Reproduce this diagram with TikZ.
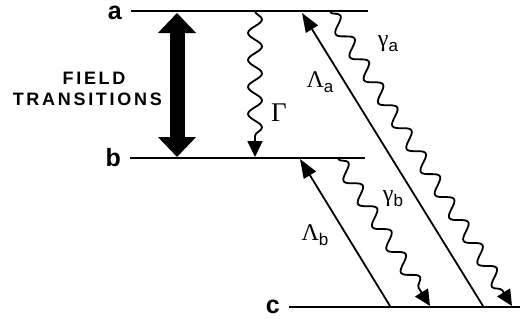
\documentclass[tikz,border=0pt]{standalone}
\usepackage{fontspec}
\setsansfont{Liberation Sans}
\newfontfamily\greekfont{Liberation Serif}
\newfontfamily\fieldfont[LetterSpace=15]{Liberation Sans}
\usetikzlibrary{arrows.meta, positioning, decorations.pathmorphing}
\tikzset{
  node distance=6pt,
  lvlline/.style={line width=2.6pt},
  lvllbl/.style={font=\fontsize{25}{25}\selectfont\sffamily\bfseries, inner sep=0pt},
  fieldlbl/.style={font=\fontsize{18}{18}\selectfont\fieldfont\bfseries, inner sep=0pt},
  pump/.style={-{Triangle[length=19pt, width=14pt]}, line width=1.8pt},
  wave/.style={-{Triangle[length=16pt, width=15pt]}, line width=1.8pt, decorate,
               decoration={snake, amplitude=7pt, segment length=27pt, post length=18pt}},
  field/.style={{Triangle[length=20pt, width=37pt]}-{Triangle[length=20pt, width=37pt]},
                line width=15pt},
  rate/.style={font=\fontsize{24}{24}\selectfont\greekfont, inner sep=0pt},
}
\newcommand{\ratesub}[2]{#1\raisebox{-5pt}{\fontsize{17}{17}\selectfont\sffamily #2}}

\begin{document}
\begin{tikzpicture}[x=1pt, y=-1pt]
  \useasboundingbox (0,0) rectangle (522,324);
  % levels
  \coordinate (a1) at (131,11);  \coordinate (a2) at (368,11);
  \coordinate (b1) at (130,158); \coordinate (b2) at (365,158);
  \coordinate (c1) at (289,307); \coordinate (c2) at (520,307);
  \draw[lvlline] (a1) -- (a2);
  \draw[lvlline] (b1) -- (b2);
  \draw[lvlline] (c1) -- (c2);
  \node[lvllbl, left=9pt of a1, yshift=-2pt] (la) {a};
  \node[lvllbl, left=9pt of b1] (lb) {b};
  \node[lvllbl, left=9pt of c1] (lc) {c};
  % field transitions
  \coordinate (fa) at (177,13); \coordinate (fb) at (177,157);
  \draw[field] (fa) -- (fb);
  \node[fieldlbl, anchor=east] (trans) at (162,99) {TRANSITIONS};
  \node[fieldlbl] (fld) at (94,78) {FIELD};
  % decay b <- a
  \coordinate (g1) at (255,11); \coordinate (g2) at (255,157);
  \draw[wave] (g1) -- (g2);
  \node[rate, font=\fontsize{27}{27}\selectfont\greekfont] (G) at (279,113) {Γ};
  % pumping and decay via c
  \coordinate (pa1) at (483,306); \coordinate (pa2) at (302,13);
  \coordinate (pb1) at (390,306); \coordinate (pb2) at (300,159);
  \draw[pump] (pa1) -- (pa2);
  \draw[pump] (pb1) -- (pb2);
  \coordinate (ga1) at (330,12);  \coordinate (ga2) at (512,306);
  \coordinate (gb1) at (338,159); \coordinate (gb2) at (430,306);
  \draw[wave] (ga1) -- (ga2);
  \draw[wave] (gb1) -- (gb2);
  \node[rate] (La) at (320,82) {\ratesub{Λ}{a}};
  \node[rate] (Lb) at (315,235) {\ratesub{Λ}{b}};
  \node[rate] (ga) at (388,44) {\ratesub{γ}{a}};
  \node[rate] (gb) at (393,199) {\ratesub{γ}{b}};
\end{tikzpicture}
\end{document}
